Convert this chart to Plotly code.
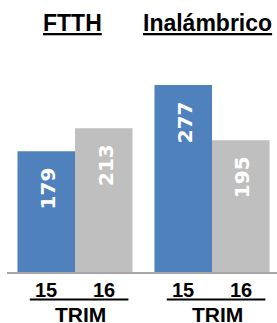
import plotly.graph_objects as go

groups = ["FTTH", "Inalámbrico"]
periods = ["15", "16"]
sub_title = "TRIM"
values_15 = [179, 277]
values_16 = [213, 195]

BLUE = "#4F81BD"
GRAY = "#BFBFBF"
BAR_OFF = 0.21

xs = list(range(len(groups)))

fig = go.Figure()
fig.add_trace(go.Bar(x=xs, y=values_15, marker=dict(color=BLUE, line=dict(width=0)), name=periods[0]))
fig.add_trace(go.Bar(x=xs, y=values_16, marker=dict(color=GRAY, line=dict(width=0)), name=periods[1]))

ann = []
shapes = []
title_shift = [-3, -5]
for i, g in enumerate(groups):
    ann.append(dict(x=i, y=1.029, xref="x", yref="paper", text="<u>%s</u>" % g, showarrow=False,
                    xshift=title_shift[i], yanchor="middle",
                    font=dict(family="Liberation Sans", size=23, color="black", weight="bold")))
    for j, (vals, off) in enumerate([(values_15, -BAR_OFF), (values_16, BAR_OFF)]):
        ann.append(dict(x=i + off, y=vals[i], xref="x", yref="y", text=str(vals[i]), showarrow=False,
                        textangle=-90, yanchor="top", xanchor="center", yshift=-14, xshift=2,
                        font=dict(family="DejaVu Sans", size=20, color="white", weight="bold")))
        ann.append(dict(x=i + off, y=-0.0744, xref="x", yref="paper", text=periods[j], showarrow=False,
                        yanchor="middle",
                        font=dict(family="Liberation Sans", size=20, color="black", weight="bold")))
    ann.append(dict(x=i, y=-0.1756, xref="x", yref="paper", text=sub_title, showarrow=False,
                    yanchor="middle", xshift=5,
                    font=dict(family="Liberation Sans", size=21, color="black", weight="bold")))
    shapes.append(dict(type="line", xref="x", yref="paper", x0=i - 0.33, x1=i + 0.39,
                       y0=-0.1136, y1=-0.1136, line=dict(color="black", width=2)))

fig.update_layout(
    width=277, height=323,
    margin=dict(l=7, r=0, t=30, b=51),
    paper_bgcolor="white", plot_bgcolor="white",
    barmode="group", bargap=0.16, bargroupgap=0,
    showlegend=False,
    xaxis=dict(range=[-0.4964, 1.4745], showticklabels=False, ticks="", showgrid=False, zeroline=False,
               showline=True, linecolor="#A6A6A6", linewidth=2),
    yaxis=dict(range=[0, 358.5], visible=False, showgrid=False, zeroline=False),
    annotations=ann, shapes=shapes,
)
fig.write_html("out.html", config={"displayModeBar": False},
               post_script="document.body.style.margin='0';document.body.style.overflow='hidden';")
